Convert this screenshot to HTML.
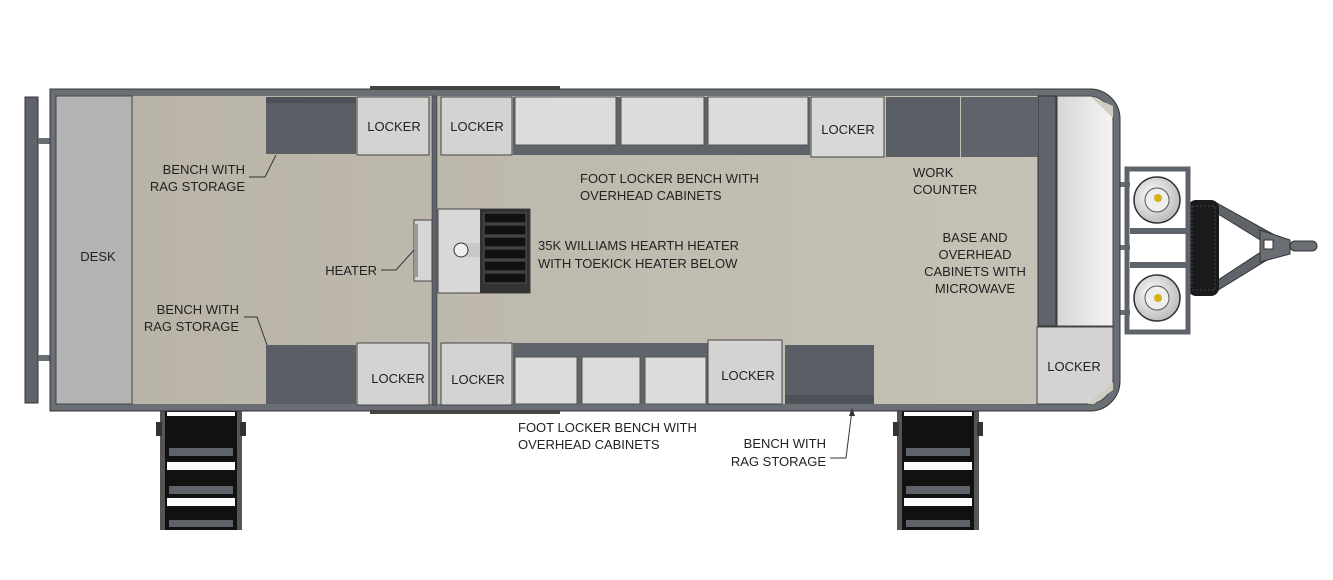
<!DOCTYPE html>
<html><head><meta charset="utf-8"><style>
html,body{margin:0;padding:0;background:#fff;}
svg{display:block;}
text{font-family:"Liberation Sans",sans-serif;font-size:13px;fill:#222;}
</style></head><body>
<svg width="1333" height="580" viewBox="0 0 1333 580" xmlns="http://www.w3.org/2000/svg">
<defs>
<linearGradient id="wg" x1="0" y1="0" x2="1" y2="0"><stop offset="0" stop-color="#d6d6d6"/><stop offset="1" stop-color="#f4f4f4"/></linearGradient>
<linearGradient id="fl" x1="0" y1="0" x2="1" y2="0"><stop offset="0" stop-color="#b8b3a6"/><stop offset="1" stop-color="#c6c2b6"/></linearGradient>
<radialGradient id="tank" cx="0.4" cy="0.4" r="0.6"><stop offset="0" stop-color="#fff"/><stop offset="1" stop-color="#bdbdbd"/></radialGradient>
<g id="step">
<rect x="0" y="0" width="82" height="122" fill="#111"/>
<rect x="0" y="0" width="5" height="122" fill="#555"/>
<rect x="77" y="0" width="5" height="122" fill="#555"/>
<rect x="-4" y="14" width="6" height="14" fill="#333"/>
<rect x="80" y="14" width="6" height="14" fill="#333"/>
<rect x="7" y="4" width="68" height="4" fill="#fff"/>
<rect x="9" y="40" width="64" height="8" fill="#5e636a"/>
<rect x="7" y="54" width="68" height="8" fill="#fff"/>
<rect x="9" y="78" width="64" height="8" fill="#5e636a"/>
<rect x="7" y="90" width="68" height="8" fill="#fff"/>
<rect x="9" y="112" width="64" height="7" fill="#5e636a"/>
</g>
</defs>

<!-- rear bumper -->
<rect x="25" y="97" width="13" height="306" fill="#5f646b" stroke="#333" stroke-width="1"/>
<rect x="38" y="138" width="14" height="6" fill="#6a6f76"/>
<rect x="38" y="355" width="14" height="6" fill="#6a6f76"/>

<!-- steps -->
<use href="#step" x="160" y="408"/>
<use href="#step" x="897" y="408"/>
<rect x="150" y="398" width="102" height="12" rx="3" fill="#c9c5ba" stroke="#333"/>
<rect x="887" y="398" width="102" height="12" rx="3" fill="#c9c5ba" stroke="#333"/>

<!-- tongue -->
<polygon points="1215,202 1280,238 1280,252 1215,292 1215,282 1270,246 1215,212" fill="#5f646b" stroke="#333"/>
<polygon points="1260,230 1290,240 1290,254 1260,262" fill="#6a6f76" stroke="#333"/>
<rect x="1264" y="240" width="9" height="9" fill="#fff" stroke="#333"/>
<rect x="1290" y="241" width="27" height="10" rx="5" fill="#6a6f76" stroke="#333"/>
<!-- tire -->
<rect x="1188" y="200" width="31" height="96" rx="8" fill="#1a1a1a"/>
<rect x="1192" y="206" width="23" height="84" fill="none" stroke="#444" stroke-dasharray="2,2"/>
<!-- propane frame -->
<rect x="1118" y="182" width="12" height="5" fill="#6a6f76"/>
<rect x="1118" y="245" width="12" height="5" fill="#6a6f76"/>
<rect x="1118" y="310" width="12" height="5" fill="#6a6f76"/>
<rect x="1127" y="169" width="61" height="163" fill="none" stroke="#5f646b" stroke-width="5"/>
<rect x="1130" y="228" width="56" height="6" fill="#5f646b"/>
<rect x="1130" y="262" width="56" height="6" fill="#5f646b"/>
<circle cx="1157" cy="200" r="23" fill="url(#tank)" stroke="#333" stroke-width="1.5"/>
<circle cx="1157" cy="200" r="12" fill="#eee" stroke="#555"/>
<circle cx="1158" cy="198" r="4" fill="#d4b21c"/>
<circle cx="1157" cy="298" r="23" fill="url(#tank)" stroke="#333" stroke-width="1.5"/>
<circle cx="1157" cy="298" r="12" fill="#eee" stroke="#555"/>
<circle cx="1158" cy="298" r="4" fill="#d4b21c"/>

<!-- body shell -->
<path d="M50,89 H1090 A30,30 0 0 1 1120,119 V381 A30,30 0 0 1 1090,411 H50 Z" fill="#6a6f76" stroke="#333" stroke-width="1"/>
<path d="M56,96 H1088 A25,25 0 0 1 1113,121 V379 A25,25 0 0 1 1088,404 H56 Z" fill="url(#fl)"/>
<rect x="370" y="86" width="190" height="4" fill="#444"/>
<rect x="370" y="410" width="190" height="4" fill="#444"/>

<!-- desk -->
<rect x="56" y="96" width="76" height="308" fill="#b3b3b3" stroke="#444" stroke-width="1"/>
<!-- right end -->
<rect x="1038" y="96" width="18" height="230" fill="#5f646b" stroke="#333"/>
<path d="M1057,96 H1088 A25,25 0 0 1 1113,121 V326 H1057 Z" fill="url(#wg)" stroke="#444"/>
<polygon points="1090,96 1113,118 1113,106" fill="#d0ccbf"/>
<path d="M1037,327 H1113 V379 A25,25 0 0 1 1088,404 H1037 Z" fill="#d3d3d3" stroke="#444"/>
<polygon points="1113,382 1113,390 1094,404 1088,404" fill="#d0ccbf"/>

<!-- top row -->
<rect x="266" y="97" width="90" height="57" fill="#5a5f66"/>
<rect x="266" y="97" width="90" height="6" fill="#4d5258"/>
<rect x="357" y="97" width="72" height="58" fill="#d3d3d3" stroke="#444"/>
<rect x="441" y="97" width="71" height="58" fill="#d3d3d3" stroke="#444"/>
<rect x="513" y="97" width="297" height="58" fill="#5f646b"/>
<rect x="515" y="97" width="101" height="48" fill="#dcdcdc" stroke="#555"/>
<rect x="621" y="97" width="83" height="48" fill="#dcdcdc" stroke="#555"/>
<rect x="708" y="97" width="100" height="48" fill="#dcdcdc" stroke="#555"/>
<rect x="811" y="97" width="73" height="60" fill="#d8d8d8" stroke="#444"/>
<rect x="886" y="97" width="74" height="60" fill="#5a5f66"/>
<rect x="961" y="97" width="77" height="60" fill="#5f646b"/>

<!-- bottom row -->
<rect x="266" y="345" width="90" height="59" fill="#5a5f66"/>
<rect x="357" y="343" width="72" height="62" fill="#d3d3d3" stroke="#444"/>
<rect x="441" y="343" width="71" height="62" fill="#d3d3d3" stroke="#444"/>
<rect x="513" y="343" width="195" height="61" fill="#5f646b"/>
<rect x="515" y="357" width="62" height="47" fill="#dcdcdc" stroke="#555"/>
<rect x="582" y="357" width="58" height="47" fill="#dcdcdc" stroke="#555"/>
<rect x="645" y="357" width="61" height="47" fill="#dcdcdc" stroke="#555"/>
<rect x="708" y="340" width="74" height="64" fill="#d3d3d3" stroke="#444"/>
<rect x="785" y="345" width="89" height="59" fill="#5a5f66"/>
<rect x="785" y="395" width="89" height="9" fill="#4d5258"/>

<!-- partition -->
<rect x="432" y="96" width="5" height="309" fill="#5f646b" stroke="#333" stroke-width="0.5"/>

<!-- heater -->
<rect x="414" y="220" width="18" height="61" fill="#d6d6d6" stroke="#444"/>
<rect x="414" y="224" width="4" height="53" fill="#999"/>
<rect x="438" y="209" width="92" height="84" fill="#d8d8d8" stroke="#444"/>
<rect x="480" y="209" width="50" height="84" fill="#333"/>
<g fill="#111" stroke="#555" stroke-width="1">
<rect x="484" y="213" width="42" height="10"/><rect x="484" y="225" width="42" height="10"/>
<rect x="484" y="237" width="42" height="10"/><rect x="484" y="249" width="42" height="10"/>
<rect x="484" y="261" width="42" height="10"/><rect x="484" y="273" width="42" height="10"/>
</g>
<rect x="460" y="243" width="20" height="14" fill="#c8c8c8"/>
<circle cx="461" cy="250" r="7" fill="#eee" stroke="#333"/>

<!-- leader lines -->
<g fill="none" stroke="#333" stroke-width="1">
<polyline points="249,177 265,177 276,155"/>
<polyline points="244,317 257,317 267,345"/>
<polyline points="381,270 396,270 414,250"/>
<polyline points="830,458 846,458 852,410"/>
</g>
<polygon points="852,408 849,416 855,416" fill="#333"/>

<!-- labels -->
<text x="98" y="261" text-anchor="middle">DESK</text>
<text x="245" y="174" text-anchor="end">BENCH WITH</text>
<text x="245" y="191" text-anchor="end">RAG STORAGE</text>
<text x="239" y="314" text-anchor="end">BENCH WITH</text>
<text x="239" y="331" text-anchor="end">RAG STORAGE</text>
<text x="377" y="275" text-anchor="end">HEATER</text>
<text x="394" y="131" text-anchor="middle">LOCKER</text>
<text x="477" y="131" text-anchor="middle">LOCKER</text>
<text x="848" y="134" text-anchor="middle">LOCKER</text>
<text x="398" y="383" text-anchor="middle">LOCKER</text>
<text x="478" y="384" text-anchor="middle">LOCKER</text>
<text x="748" y="380" text-anchor="middle">LOCKER</text>
<text x="1074" y="371" text-anchor="middle">LOCKER</text>
<text x="580" y="183">FOOT LOCKER BENCH WITH</text>
<text x="580" y="200">OVERHEAD CABINETS</text>
<text x="538" y="250">35K WILLIAMS HEARTH HEATER</text>
<text x="538" y="268">WITH TOEKICK HEATER BELOW</text>
<text x="518" y="432">FOOT LOCKER BENCH WITH</text>
<text x="518" y="449">OVERHEAD CABINETS</text>
<text x="826" y="448" text-anchor="end">BENCH WITH</text>
<text x="826" y="466" text-anchor="end">RAG STORAGE</text>
<text x="913" y="177">WORK</text>
<text x="913" y="194">COUNTER</text>
<text x="975" y="242" text-anchor="middle">BASE AND</text>
<text x="975" y="259" text-anchor="middle">OVERHEAD</text>
<text x="975" y="276" text-anchor="middle">CABINETS WITH</text>
<text x="975" y="293" text-anchor="middle">MICROWAVE</text>
</svg>
</body></html>
